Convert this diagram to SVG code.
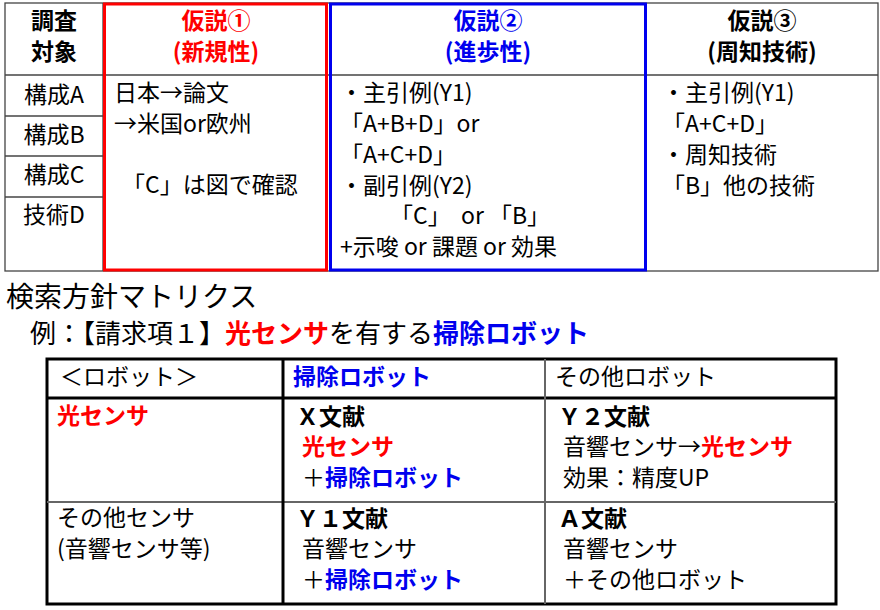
<svg xmlns="http://www.w3.org/2000/svg" width="880" height="610" viewBox="0 0 880 610">
<style>
text{font-family:"Noto Sans CJK JP","Liberation Sans",sans-serif;font-size:23px;fill:#000}
.b{font-weight:bold}.r{fill:#ff0000}.u{fill:#0000ee}
.g{stroke:#444;stroke-width:1.3;fill:none}
.k{stroke:#000;stroke-width:3;fill:none}
</style>
<rect width="880" height="610" fill="#fff"/>
<g id="top-table">
<rect class="g" x="5" y="3" width="873" height="268"/>
<line class="g" x1="5" y1="75" x2="878" y2="75"/>
<line class="g" x1="5" y1="116" x2="103" y2="116"/>
<line class="g" x1="5" y1="156" x2="103" y2="156"/>
<line class="g" x1="5" y1="197" x2="103" y2="197"/>
<line class="g" x1="103" y1="3" x2="103" y2="271"/>
<line class="g" x1="646" y1="3" x2="646" y2="271"/>
<rect x="104.5" y="4" width="222" height="266" fill="none" stroke="#ff0000" stroke-width="3"/>
<rect x="330.5" y="4" width="315" height="266" fill="none" stroke="#0000ee" stroke-width="3"/>
</g>
<g id="col0">
<text class="b" x="54" y="29" text-anchor="middle">調査</text>
<text class="b" x="54" y="60" text-anchor="middle">対象</text>
<text x="54" y="103" text-anchor="middle">構成A</text>
<text x="54" y="143" text-anchor="middle">構成B</text>
<text x="54" y="183" text-anchor="middle">構成C</text>
<text x="54" y="223" text-anchor="middle">技術D</text>
</g>
<g id="hyp1">
<text class="b r" x="216" y="29" text-anchor="middle">仮説①</text>
<text class="b r" x="216" y="60" text-anchor="middle">(新規性)</text>
<text x="114" y="101">日本→論文</text>
<text x="114" y="132">→米国or欧州</text>
<text x="122" y="193">「C」は図で確認</text>
</g>
<g id="hyp2">
<text class="b u" x="488" y="29" text-anchor="middle">仮説②</text>
<text class="b u" x="488" y="60" text-anchor="middle">(進歩性)</text>
<text x="340" y="101">・主引例(Y1)</text>
<text x="340" y="132">「A+B+D」or</text>
<text x="340" y="163">「A+C+D」</text>
<text x="340" y="194">・副引例(Y2)</text>
<text x="390" y="224" xml:space="preserve">「C」  or 「B」</text>
<text x="340" y="255">+示唆 or 課題 or 効果</text>
</g>
<g id="hyp3">
<text class="b" x="762" y="29" text-anchor="middle">仮説③</text>
<text class="b" x="762" y="60" text-anchor="middle">(周知技術)</text>
<text x="662" y="101">・主引例(Y1)</text>
<text x="662" y="132">「A+C+D」</text>
<text x="662" y="163">・周知技術</text>
<text x="662" y="194">「B」他の技術</text>
</g>
<g id="titles">
<text x="6" y="307" style="font-size:28px">検索方針マトリクス</text>
<text x="30" y="343" style="font-size:26px">例：【請求項１】<tspan class="b r">光センサ</tspan>を有する<tspan class="b u">掃除ロボット</tspan></text>
</g>
<g id="matrix">
<rect class="k" x="47" y="359" width="789" height="245"/>
<line class="k" x1="47" y1="398" x2="836" y2="398"/>
<line stroke="#666" stroke-width="2" x1="47" y1="502" x2="836" y2="502"/>
<line class="k" x1="283" y1="359" x2="283" y2="604"/>
<line stroke="#666" stroke-width="2" x1="545" y1="359" x2="545" y2="604"/>
</g>
<g id="cells">
<text x="60" y="385">＜ロボット＞</text>
<text class="b u" x="293" y="385">掃除ロボット</text>
<text x="555" y="385">その他ロボット</text>
<text class="b r" x="57" y="424">光センサ</text>
<text class="b" x="296" y="425">Ｘ文献</text>
<text class="b r" x="302" y="455">光センサ</text>
<text x="302" y="486">＋<tspan class="b u">掃除ロボット</tspan></text>
<text class="b" x="558" y="425">Ｙ２文献</text>
<text x="563" y="455">音響センサ→<tspan class="b r">光センサ</tspan></text>
<text x="563" y="486">効果：精度UP</text>
<text x="57" y="526">その他センサ</text>
<text x="57" y="557">(音響センサ等)</text>
<text class="b" x="296" y="527">Ｙ１文献</text>
<text x="302" y="557">音響センサ</text>
<text x="302" y="588">＋<tspan class="b u">掃除ロボット</tspan></text>
<text class="b" x="558" y="527">Ａ文献</text>
<text x="563" y="557">音響センサ</text>
<text x="563" y="588">＋その他ロボット</text>
</g>
</svg>
